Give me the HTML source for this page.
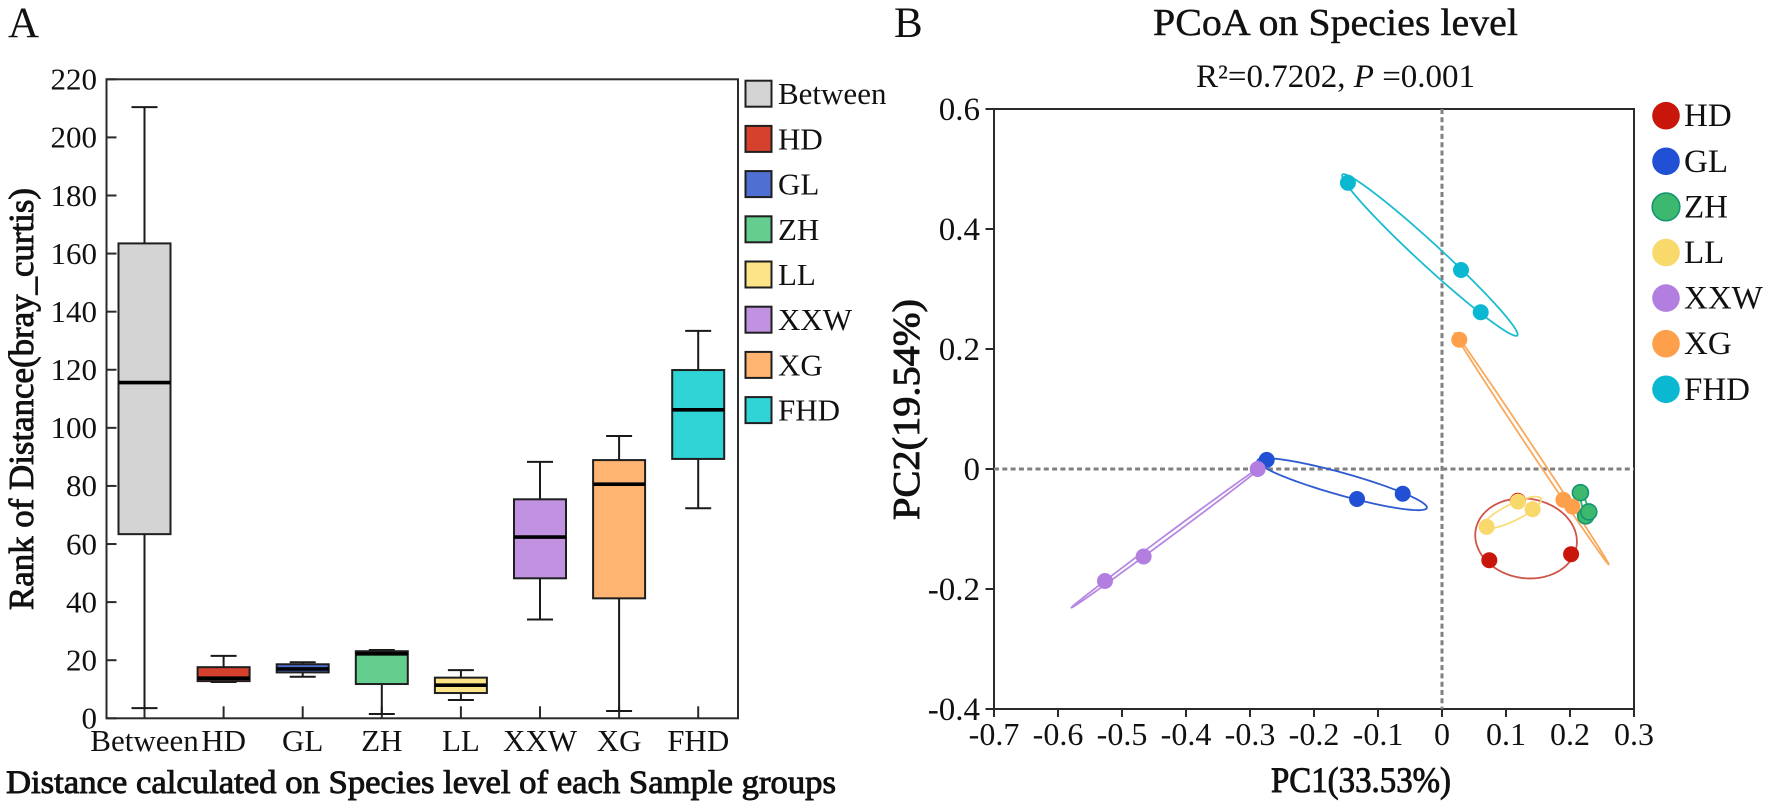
<!DOCTYPE html>
<html lang="en">
<head>
<meta charset="utf-8">
<title>Distance boxplot and PCoA on Species level</title>
<style>
html,body{margin:0;padding:0;background:#fff;width:1772px;height:809px;overflow:hidden}
svg{display:block}
text{font-family:"Liberation Serif","Times New Roman",serif;fill:#111}
.semi{stroke:#111;stroke-width:.9}
.title{stroke:#111;stroke-width:.4}
.axis{stroke:#2a2a2a;stroke-width:2;fill:none}
.median{stroke:#000;stroke-width:3.6}
.whisker{stroke:#1a1a1a;stroke-width:2;fill:none}
.box{stroke:#1f1f1f;stroke-width:2}
.ref{stroke:#808080;stroke-width:3;stroke-dasharray:5 3.3;fill:none}
.f-Between{fill:#d4d4d4}.f-HD{fill:#d5412c}.f-GL{fill:#4f70d2}.f-ZH{fill:#63ce8d}
.f-LL{fill:#fde488}.f-XXW{fill:#c192e1}.f-XG{fill:#ffb471}.f-FHD{fill:#30d4d6}
.p-HD{fill:#c9160a;stroke:#c9160a}.p-GL{fill:#2150d4;stroke:#2150d4}
.p-ZH{fill:#3cb96f;stroke:#14946f}.p-LL{fill:#f9d86c;stroke:#f9d86c}
.p-XXW{fill:#b27edf;stroke:#b27edf}.p-XG{fill:#fd9f4b;stroke:#fd9f4b}.p-FHD{fill:#0bb8d2;stroke:#0bb8d2}
.p-HD,.p-GL,.p-LL,.p-XXW,.p-XG,.p-FHD{stroke-width:0}
.p-ZH{stroke-width:1.6}
.e{fill:none;stroke-width:1.8}
.e-HD{stroke:#cf5548}.e-GL{stroke:#2f5bd0}.e-ZH{stroke:#30b070}.e-LL{stroke:#fadc7c}
.e-XXW{stroke:#b688e2}.e-XG{stroke:#f9a95c}.e-FHD{stroke:#1cbccf}
</style>
</head>
<body>
<svg id="figure" width="1772" height="809" viewBox="0 0 1772 809" xmlns="http://www.w3.org/2000/svg">
  <text x="8" y="37" font-size="43">A</text>
  <text x="894" y="37" font-size="43">B</text>

  <g id="panelA"></g>
  <text class="semi" font-size="35" textLength="422" lengthAdjust="spacingAndGlyphs" transform="translate(33 610) rotate(-90)">Rank of Distance(bray_curtis)</text>
  <text class="semi" x="6" y="793" font-size="33" textLength="830" lengthAdjust="spacingAndGlyphs">Distance calculated on Species level of each Sample groups</text>

  <text class="title" x="1153" y="35" font-size="38.5" textLength="365" lengthAdjust="spacingAndGlyphs">PCoA on Species level</text>
  <text x="1196" y="87" font-size="33">R²=0.7202, <tspan font-style="italic">P</tspan> =0.001</text>

  <g id="panelB"></g>
  <text class="semi" font-size="38" textLength="221" lengthAdjust="spacingAndGlyphs" transform="translate(919 520) rotate(-90)">PC2(19.54%)</text>
  <text class="semi" x="1271" y="792" font-size="36" textLength="180" lengthAdjust="spacingAndGlyphs">PC1(33.53%)</text>
</svg>

<script>
// ---------- Panel A data ----------
var boxCategories = ['Between','HD','GL','ZH','LL','XXW','XG','FHD'];
var whiskerHigh   = [210.4, 21.5, 19.3, 23.5, 16.6, 88.3, 97.2, 133.4];
var quartile3     = [163.5, 17.6, 18.6, 23.1, 14.0, 75.4, 88.9, 119.9];
var medians       = [115.6, 13.8, 17.0, 22.2, 11.4, 62.4, 80.6, 106.2];
var quartile1     = [63.4, 12.8, 15.8, 11.8, 8.7, 48.2, 41.3, 89.3];
var whiskerLow    = [3.5, 12.5, 14.3, 1.5, 6.3, 34.0, 2.5, 72.3];
var boxYTicks     = [0,20,40,60,80,100,120,140,160,180,200,220];

// ---------- Panel B data ----------
var pcoaGroups = ['HD','GL','ZH','LL','XXW','XG','FHD'];
var pc1Values = [
  [0.0739, 0.2017, 0.1185],
  [-0.2739, -0.1328, -0.0614],
  [0.2163, 0.2246, 0.2293],
  [0.0697, 0.1187, 0.1416],
  [-0.5266, -0.4662, -0.2880],
  [0.0270, 0.1897, 0.2038],
  [-0.1470, 0.0297, 0.0605]
];
var pc2Values = [
  [-0.152, -0.142, -0.053],
  [0.0152, -0.050, -0.0412],
  [-0.0394, -0.0781, -0.0715],
  [-0.0964, -0.0543, -0.067],
  [-0.1867, -0.1458, 0],
  [0.2155, -0.0515, -0.0627],
  [0.477, 0.3317, 0.2612]
];
var pc1TickValues = [-0.7,-0.6,-0.5,-0.4,-0.3,-0.2,-0.1,0,0.1,0.2,0.3];
var pc1TickLabels = ['-0.7','-0.6','-0.5','-0.4','-0.3','-0.2','-0.1','0','0.1','0.2','0.3'];
var pc2TickValues = [-0.4,-0.2,0,0.2,0.4,0.6];
var pc2TickLabels = ['-0.4','-0.2','0','0.2','0.4','0.6'];

// ---------- Helpers ----------
var NS = 'http://www.w3.org/2000/svg';
function make(parent, tag, attrs, txt) {
  var n = document.createElementNS(NS, tag);
  for (var k in attrs) n.setAttribute(k, attrs[k]);
  if (txt !== undefined) n.textContent = txt;
  parent.appendChild(n);
  return n;
}

// ---------- Panel A axes ----------
var A = document.getElementById('panelA');
var aLeft = 106.5, aRight = 738, aTop = 79.3, aBottom = 718.3;
function boxY(v) { return aBottom - (v / 220) * (aBottom - aTop); }
function boxX(i) { return 144.5 + i * 79.1; }
var el;

el = make(A, 'rect', {x: aLeft, y: aTop, width: aRight - aLeft, height: aBottom - aTop, 'class': 'axis'});



boxYTicks.forEach(function (v) {
  var t = make(A, 'line', {x1: aLeft, x2: aLeft + 10, y1: boxY(v), y2: boxY(v), 'class': 'axis'});
  
  
  var l = make(A, 'text', {x: 97, y: boxY(v) + 10.3, 'text-anchor': 'end', 'font-size': 31}, String(v));
  
  
});

boxCategories.forEach(function (name, i) {
  var cx = boxX(i), half = 26, cap = 13;
  var t = make(A, 'line', {x1: cx, x2: cx, y1: aBottom, y2: aBottom - 12, 'class': 'axis'});
  
  
  var l = make(A, 'text', {x: cx, y: 751, 'text-anchor': 'middle', 'font-size': 31}, name);
  
  

  var w = make(A, 'line', {x1: cx, x2: cx, y1: boxY(whiskerHigh[i]), y2: boxY(whiskerLow[i]), 'class': 'whisker'});
  
  
  var c1 = make(A, 'line', {x1: cx - cap, x2: cx + cap, y1: boxY(whiskerHigh[i]), y2: boxY(whiskerHigh[i]), 'class': 'whisker'});
  
  
  var c2 = make(A, 'line', {x1: cx - cap, x2: cx + cap, y1: boxY(whiskerLow[i]), y2: boxY(whiskerLow[i]), 'class': 'whisker'});
  
  
  var b = make(A, 'rect', {x: cx - half, y: boxY(quartile3[i]), width: half * 2, height: boxY(quartile1[i]) - boxY(quartile3[i]), 'class': 'box f-' + name});
  
  
  var m = make(A, 'line', {x1: cx - half, x2: cx + half, y1: boxY(medians[i]), y2: boxY(medians[i]), 'class': 'median'});
  
  

  var ly = 80.7 + i * 45.2;
  var s = make(A, 'rect', {x: 745.5, y: ly, width: 26, height: 26, 'class': 'box f-' + name});
  
  
  var lt = make(A, 'text', {x: 778, y: ly + 23.5, 'font-size': 31}, name);
  
  
});

// ---------- Panel B axes ----------
var B = document.getElementById('panelB');
function pcX(v) { return 1442 + v * 640; }
function pcY(v) { return 469 - v * 600; }

el = make(B, 'rect', {x: pcX(-0.7), y: pcY(0.6), width: pcX(0.3) - pcX(-0.7), height: pcY(-0.4) - pcY(0.6), 'class': 'axis'});



el = make(B, 'line', {x1: pcX(-0.7), x2: pcX(0.3), y1: pcY(0), y2: pcY(0), 'class': 'ref'});


el = make(B, 'line', {x1: pcX(0), x2: pcX(0), y1: pcY(0.6), y2: pcY(-0.4), 'class': 'ref'});



pc1TickValues.forEach(function (v, i) {
  var t = make(B, 'line', {x1: pcX(v), x2: pcX(v), y1: pcY(-0.4), y2: pcY(-0.4) + 8, 'class': 'axis'});
  
  
  var l = make(B, 'text', {x: pcX(v), y: 745, 'text-anchor': 'middle', 'font-size': 32}, pc1TickLabels[i]);
  
  
});
pc2TickValues.forEach(function (v, i) {
  var t = make(B, 'line', {x1: pcX(-0.7) - 8.5, x2: pcX(-0.7), y1: pcY(v), y2: pcY(v), 'class': 'axis'});
  
  
  var l = make(B, 'text', {x: 980, y: pcY(v) + 11, 'text-anchor': 'end', 'font-size': 33}, pc2TickLabels[i]);
  
  
});

// Ellipse around a group's samples, derived from its mean and covariance.
function ellipsePath(xs, ys) {
  var n = xs.length, mx = 0, my = 0, i;
  for (i = 0; i < n; i++) { mx += xs[i] / n; my += ys[i] / n; }
  var sxx = 0, sxy = 0, syy = 0;
  for (i = 0; i < n; i++) {
    sxx += (xs[i] - mx) * (xs[i] - mx) / n;
    sxy += (xs[i] - mx) * (ys[i] - my) / n;
    syy += (ys[i] - my) * (ys[i] - my) / n;
  }
  var l11 = Math.sqrt(sxx), l21 = l11 ? sxy / l11 : 0;
  var l22 = Math.sqrt(Math.max(0, syy - l21 * l21));
  var r = 1.5, d = '';
  for (i = 0; i <= 120; i++) {
    var a = i / 120 * 2 * Math.PI, u = r * Math.cos(a), w = r * Math.sin(a);
    var px = mx + l11 * u, py = my + l21 * u + l22 * w;
    d += (i ? 'L' : 'M') + pcX(px).toFixed(2) + ' ' + pcY(py).toFixed(2);
  }
  return d + 'Z';
}

pcoaGroups.forEach(function (name, g) {
  var e = make(B, 'path', {d: ellipsePath(pc1Values[g], pc2Values[g]), 'class': 'e e-' + name});
  
  
});
pcoaGroups.forEach(function (name, g) {
  pc1Values[g].forEach(function (v, i) {
    var p = make(B, 'circle', {cx: pcX(v), cy: pcY(pc2Values[g][i]), r: 8, 'class': 'p-' + name});
    
    
  });
  var ly = 115.7 + g * 45.6;
  var c = make(B, 'circle', {cx: 1666, cy: ly, r: 13.8, 'class': 'p-' + name});
  
  
  var t = make(B, 'text', {x: 1684, y: ly + 10.5, 'font-size': 33}, name);
  
  
});
</script>
</body>
</html>
